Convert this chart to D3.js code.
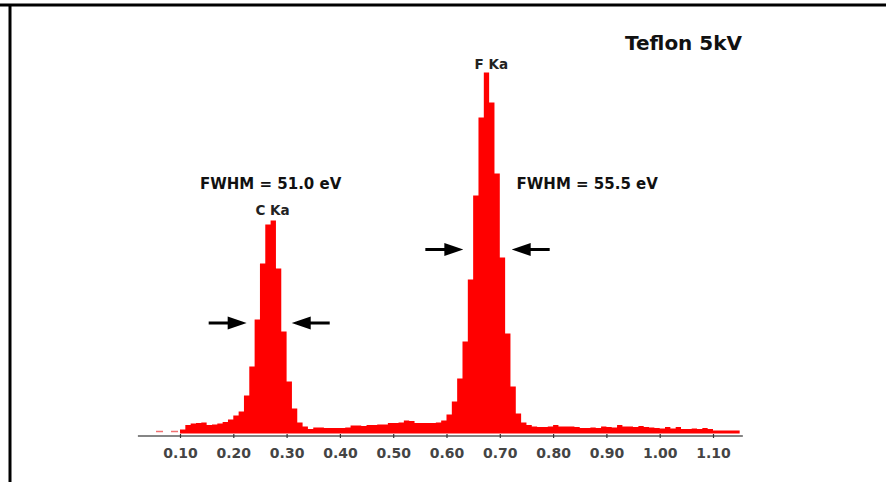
<!DOCTYPE html>
<html>
<head>
<meta charset="utf-8">
<script src="https://cdn.jsdelivr.net/npm/d3@7"></script>
<style>
  html, body { margin: 0; padding: 0; background: #fff; }
  svg { display: block; }
</style>
</head>
<body>
<svg id="chart" width="886" height="482"></svg>
<script>
// ---- data ----
const binWidth = 0.01;
const binStarts = d3.range(0, 105).map(i => +(0.10 + i * 0.01).toFixed(2));
const counts = [
  4, 8.5, 10, 10.5, 11, 8.5, 9, 10, 11.5, 14,
  18, 22, 38, 67, 114, 170, 209, 213, 165, 102,
  52, 25, 11, 7, 4.5, 6, 6, 5.5, 5.5, 5.5,
  5.5, 6, 8, 8, 7.5, 8.5, 8.5, 9, 9, 10.5,
  10.5, 11, 13, 12.5, 10.5, 10.5, 10.5, 10.5, 11, 13,
  19, 32, 55, 92, 154, 238, 316, 361, 331, 260,
  176, 100, 47, 20, 11, 8.5, 7, 6.5, 6.5, 7,
  8.5, 7, 7, 7, 6.5, 5.5, 5.5, 6, 5.5, 7,
  6.5, 6, 8.5, 7, 7, 6.5, 7.5, 6.5, 6, 5.5,
  5, 6.5, 5, 6.5, 4.5, 4.5, 5, 4.5, 5.5, 4.5,
  3, 3, 3, 3, 3
];
const tickValues = [0.10, 0.20, 0.30, 0.40, 0.50, 0.60, 0.70, 0.80, 0.90, 1.00, 1.10];
const lowTail = [0.055, 0.097];        // faint dashed low-energy trace
const lowTailLevel = 2;
const axisExtent = [0.021, 1.156];
const peakLabels = [
  { text: "C Ka", e: 0.2735, v: 219 },
  { text: "F Ka", e: 0.684, v: 365 }
];
const fwhmLabels = [
  { text: "FWHM = 51.0 eV", e: 0.1375, v: 245 },
  { text: "FWHM = 55.5 eV", e: 0.7315, v: 245 }
];
const arrows = [
  { tip: 0.2251, v: 110.5, dir: 1 },
  { tip: 0.3096, v: 110.5, dir: -1 },
  { tip: 0.6316, v: 184, dir: 1 },
  { tip: 0.7223, v: 184, dir: -1 }
];
const title = "Teflon 5kV";

// ---- scales ----
const svg = d3.select("#chart");
const x = d3.scaleLinear().domain([0.10, 1.10]).range([180, 713]);
const y = d3.scaleLinear().domain([0, 400]).range([433.5, 33.5]);

// frame lines
svg.append("line").attr("x1", 0).attr("x2", 886).attr("y1", 5).attr("y2", 5)
  .attr("stroke", "#000").attr("stroke-width", 3);
svg.append("line").attr("x1", 10).attr("x2", 10).attr("y1", 5).attr("y2", 482)
  .attr("stroke", "#000").attr("stroke-width", 3);

// histogram as step area
const pts = binStarts.map((e, i) => [e, counts[i]]);
pts.push([binStarts[binStarts.length - 1] + binWidth, counts[counts.length - 1]]);
const area = d3.area()
  .x(d => x(d[0]))
  .y0(y(0))
  .y1(d => y(d[1]))
  .curve(d3.curveStepAfter);
svg.append("path").datum(pts).attr("d", area).attr("fill", "#ff0000");

// faint low tail
svg.append("line")
  .attr("x1", x(lowTail[0])).attr("x2", x(lowTail[1]))
  .attr("y1", y(lowTailLevel)).attr("y2", y(lowTailLevel))
  .attr("stroke", "#f07070").attr("stroke-width", 1.5)
  .attr("stroke-dasharray", "7,8");

// axis line
svg.append("line")
  .attr("x1", x(axisExtent[0])).attr("x2", x(axisExtent[1]))
  .attr("y1", 436).attr("y2", 436)
  .attr("stroke", "#858585").attr("stroke-width", 2);

// ticks and labels
const ax = svg.append("g").attr("transform", "translate(0,434)")
  .call(d3.axisBottom(x).tickValues(tickValues).tickSize(4).tickPadding(10)
    .tickFormat(d3.format(".2f")));
ax.select(".domain").remove();
ax.selectAll(".tick line").attr("stroke", "#333").attr("stroke-width", 1.2);
ax.selectAll(".tick text")
  .attr("font-family", "'DejaVu Sans', sans-serif")
  .attr("font-weight", "bold")
  .attr("font-size", 14)
  .attr("fill", "#444");

// title
svg.append("text").attr("x", 625).attr("y", 50)
  .attr("font-family", "'DejaVu Sans', sans-serif").attr("font-weight", "bold")
  .attr("font-size", 20).attr("fill", "#111").text(title);

// peak labels
svg.selectAll("text.peak").data(peakLabels).enter().append("text")
  .attr("class", "peak")
  .attr("x", d => x(d.e)).attr("y", d => y(d.v))
  .attr("text-anchor", "middle")
  .attr("font-family", "'DejaVu Sans', sans-serif").attr("font-weight", "bold")
  .attr("font-size", 13.5).attr("fill", "#222")
  .text(d => d.text);

// FWHM labels
svg.selectAll("text.fwhm").data(fwhmLabels).enter().append("text")
  .attr("class", "fwhm")
  .attr("x", d => x(d.e)).attr("y", d => y(d.v))
  .attr("font-family", "'DejaVu Sans', sans-serif").attr("font-weight", "bold")
  .attr("font-size", 15).attr("fill", "#111")
  .text(d => d.text);

// arrows
const arrowG = svg.selectAll("g.arrow").data(arrows).enter().append("g")
  .attr("class", "arrow")
  .attr("transform", d => `translate(${x(d.tip)},${y(d.v)}) scale(${d.dir},1)`);
arrowG.append("path")
  .attr("d", "M0,0 L-19,-6.5 L-19,-1.6 L-38,-1.6 L-38,1.6 L-19,1.6 L-19,6.5 Z")
  .attr("fill", "#000");
</script>
</body>
</html>
